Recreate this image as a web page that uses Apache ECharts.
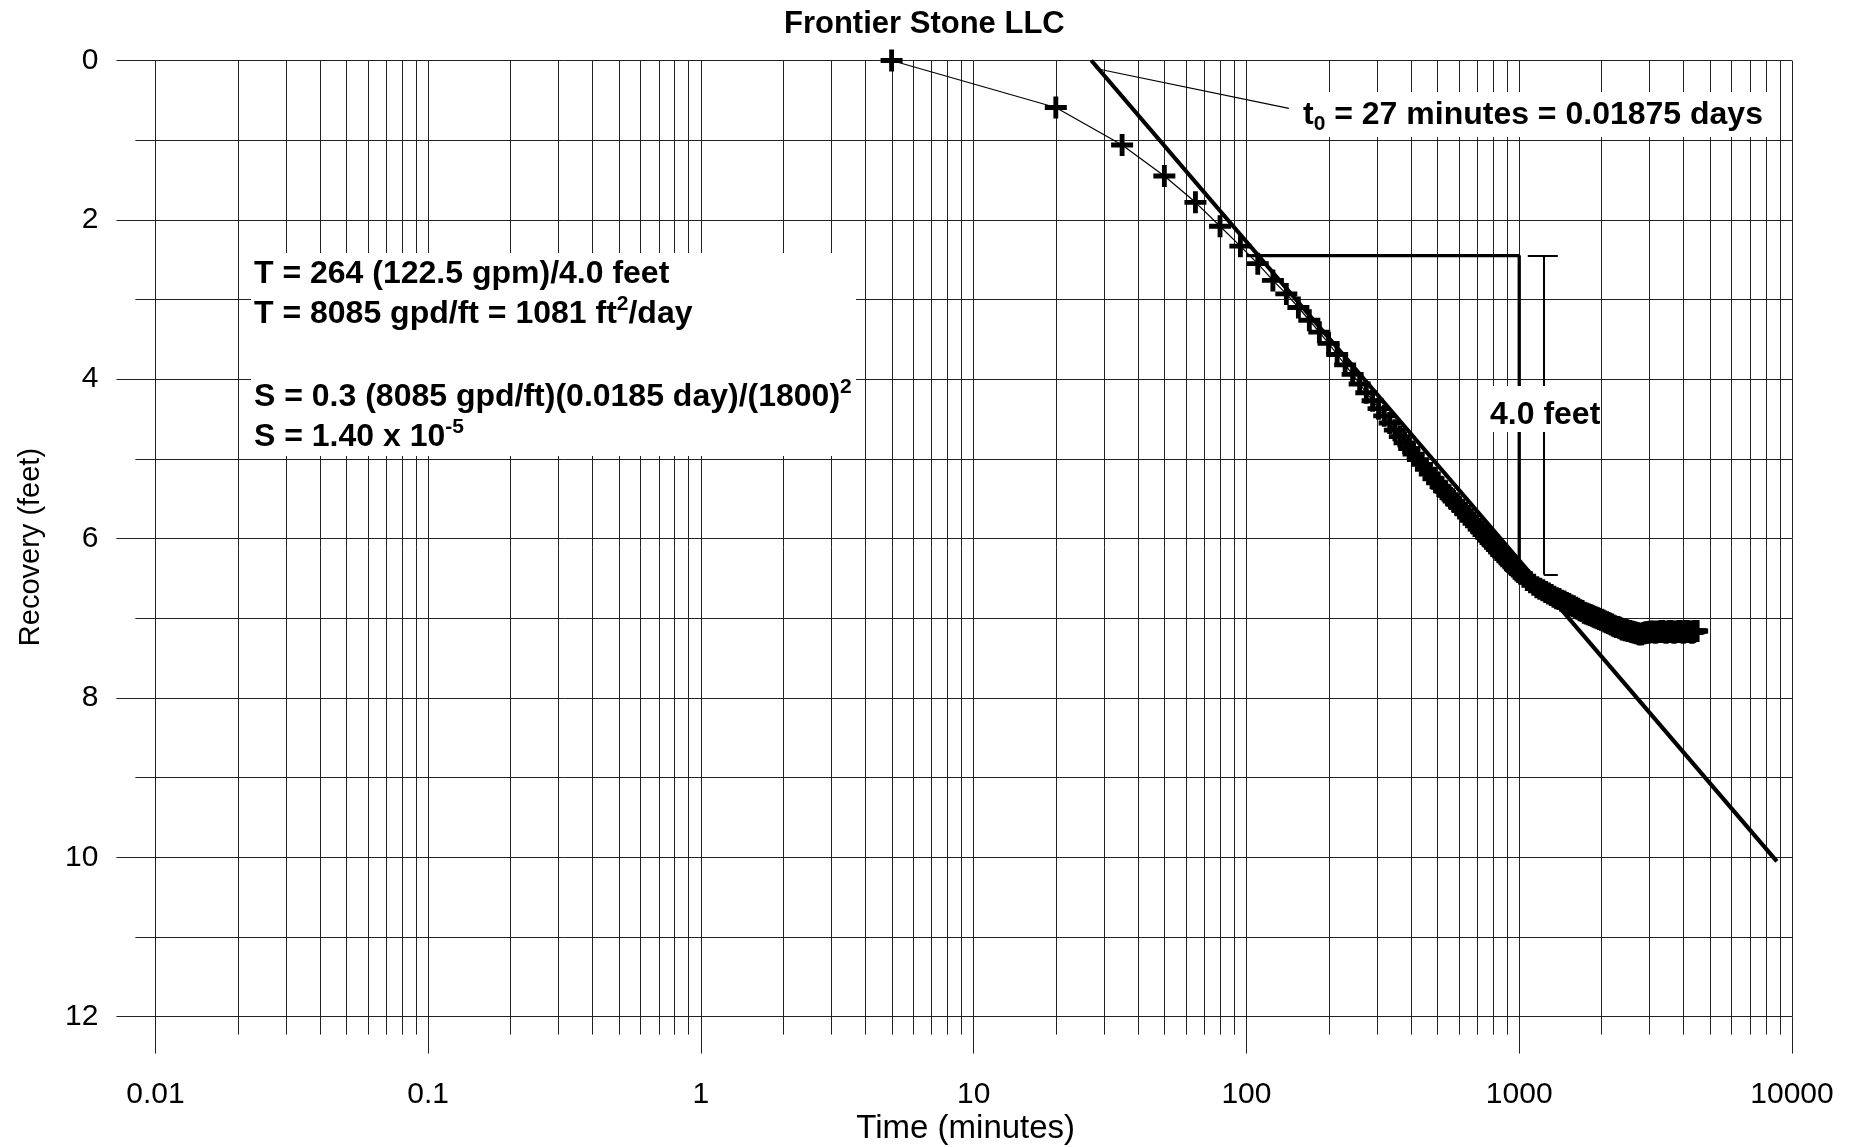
<!DOCTYPE html>
<html>
<head>
<meta charset="utf-8">
<title>Frontier Stone LLC – recovery test</title>
<script src="https://cdn.jsdelivr.net/npm/echarts/dist/echarts.min.js"></script>
<style>
  html, body { margin: 0; padding: 0; background: #ffffff; }
  #chart { width: 1860px; height: 1147px; }
</style>
</head>
<body>
<div id="chart"></div>
<script>
// ---- Data -------------------------------------------------------------
// Elapsed time since pump shut-off (minutes)
const timeMinutes = [
  5, 20, 35, 50, 65, 80, 95, 110, 125, 140,
  155, 170, 185, 200, 215, 230, 245, 260, 275, 290,
  305, 320, 335, 350, 365, 380, 395, 410, 425, 440,
  455, 470, 485, 500, 515, 530, 545, 560, 575, 590,
  605, 620, 635, 650, 665, 680, 695, 710, 725, 740,
  755, 770, 785, 800, 815, 830, 845, 860, 875, 890,
  905, 920, 935, 950, 965, 980, 995, 1010,
  1040, 1070, 1100, 1130, 1160, 1190, 1220, 1250, 1280, 1310,
  1340, 1370, 1400, 1430, 1460, 1490, 1520, 1550, 1580, 1610,
  1640, 1670, 1700, 1730, 1760, 1790, 1820, 1850, 1880, 1910,
  1940, 1970, 2000, 2030, 2060, 2090, 2120, 2150, 2180, 2210,
  2240, 2270, 2300, 2330, 2360, 2390, 2420, 2450, 2480, 2510,
  2540, 2570, 2600, 2630, 2660, 2690, 2720, 2750, 2780, 2810,
  2840, 2870, 2900, 2930, 2960, 2990, 3020, 3050, 3080, 3110,
  3140, 3170, 3200, 3230, 3260, 3290, 3320, 3350, 3380, 3410,
  3440, 3470, 3500, 3530, 3560, 3590, 3620, 3650, 3680, 3710,
  3740, 3770, 3800, 3830, 3860, 3890, 3920, 3950, 3980, 4010,
  4040, 4070, 4100, 4130, 4160, 4190, 4220, 4250, 4280, 4310,
  4340, 4370, 4400, 4430, 4460, 4490
];
// Water-level recovery (feet)
const recoveryFeet = [
  0.00, 0.59, 1.06, 1.45, 1.78, 2.08, 2.33, 2.55, 2.76, 2.93,
  3.10, 3.26, 3.41, 3.55, 3.69, 3.82, 3.94, 4.06, 4.17, 4.27,
  4.37, 4.46, 4.55, 4.64, 4.72, 4.80, 4.87, 4.94, 5.01, 5.07,
  5.13, 5.19, 5.25, 5.30, 5.35, 5.40, 5.45, 5.49, 5.53, 5.57,
  5.61, 5.65, 5.69, 5.73, 5.77, 5.81, 5.84, 5.88, 5.91, 5.95,
  5.98, 6.02, 6.05, 6.08, 6.11, 6.14, 6.17, 6.20, 6.22, 6.25,
  6.28, 6.30, 6.33, 6.35, 6.38, 6.40, 6.42, 6.44,
  6.48, 6.52, 6.55, 6.58, 6.61, 6.63, 6.65, 6.67, 6.69, 6.71,
  6.73, 6.75, 6.76, 6.78, 6.79, 6.81, 6.82, 6.84, 6.85, 6.87,
  6.88, 6.90, 6.91, 6.93, 6.94, 6.95, 6.96, 6.97, 6.98, 6.99,
  7.00, 7.01, 7.02, 7.03, 7.04, 7.05, 7.06, 7.07, 7.08, 7.09,
  7.10, 7.11, 7.11, 7.12, 7.13, 7.14, 7.14, 7.15, 7.15, 7.16,
  7.16, 7.17, 7.17, 7.18, 7.18, 7.19, 7.19, 7.20, 7.20, 7.20,
  7.19, 7.19, 7.18, 7.18, 7.18, 7.18, 7.17, 7.17, 7.17, 7.17,
  7.18, 7.18, 7.17, 7.17, 7.17, 7.17, 7.16, 7.16, 7.17, 7.17,
  7.18, 7.18, 7.17, 7.17, 7.16, 7.16, 7.17, 7.17, 7.18, 7.18,
  7.17, 7.17, 7.17, 7.17, 7.16, 7.16, 7.17, 7.17, 7.18, 7.18,
  7.17, 7.17, 7.16, 7.16, 7.17, 7.17, 7.17, 7.17, 7.18, 7.18,
  7.17, 7.17, 7.16, 7.16, 7.16, 7.16
];

// Straight-line (Cooper-Jacob) fit: t0 and slope per log cycle
const fitT0 = 27;          // minutes
const fitSlope = 4.0;      // feet per log cycle
const fitEndTime = 8800;   // minutes

// Slope construction over one log cycle
const bracketTimes = [100, 1000];
const bracketLevels = [2.45, 6.45];
const dimensionTime = 1230;
const dimensionCapTimes = [1075, 1385];

// Leader from the t0 label to the intercept
const leaderStart = [28, 0.1];
const leaderEnd = [143, 0.6];

// Axis ranges and labels
const xTickLabels = ['0.01', '0.1', '1', '10', '100', '1000', '10000'];
const yTickLabels = ['0', '2', '4', '6', '8', '10', '12'];
const X_MIN = 0.01, X_MAX = 10000;
const Y_MIN = 0, Y_MAX = 12;

// ---- Styling -----------------------------------------------------------
const FONT = '"Liberation Sans", Arial, Helvetica, sans-serif';
const GRID_COLOR = '#222';
const MINOR_TICK_LEN = 18;
const CROSS = 'path://M-1.1,-5 L1.1,-5 L1.1,-1.1 L5,-1.1 L5,1.1 L1.1,1.1 L1.1,5 L-1.1,5 L-1.1,1.1 L-5,1.1 L-5,-1.1 L-1.1,-1.1 Z';

// Intermediate log-cycle grid lines (2..9 within each decade)
const minorGridTimes = [];
for (let e = -2; e < 4; e++) {
  for (let m = 2; m <= 9; m++) minorGridTimes.push(+(m * Math.pow(10, e)).toPrecision(3));
}

const observations = timeMinutes.map((t, i) => [t, recoveryFeet[i]]);
const fitLine = [
  [fitT0, 0],
  [fitEndTime, fitSlope * Math.log10(fitEndTime / fitT0)]
];
const bracket = [
  [bracketTimes[0], bracketLevels[0]],
  [bracketTimes[1], bracketLevels[0]],
  [bracketTimes[1], bracketLevels[1]]
];

function renderMinorGrid(params, api) {
  const t = api.value(0);
  const a = api.coord([t, Y_MIN]);
  const b = api.coord([t, Y_MAX]);
  const x = Math.round(a[0]) + 0.5;
  return {
    type: 'line',
    shape: { x1: x, y1: Math.min(a[1], b[1]), x2: x, y2: Math.max(a[1], b[1]) + MINOR_TICK_LEN },
    style: { stroke: GRID_COLOR, lineWidth: 1 }
  };
}

const rich = {
  b:   { fontFamily: FONT, fontSize: 32, fontWeight: 'bold', fill: '#000', color: '#000', lineHeight: 40 },
  sup: { fontFamily: FONT, fontSize: 21, fontWeight: 'bold', fill: '#000', color: '#000', lineHeight: 24, verticalAlign: 'top' },
  sub: { fontFamily: FONT, fontSize: 21, fontWeight: 'bold', fill: '#000', color: '#000', lineHeight: 24, verticalAlign: 'bottom' }
};

function label(x, y, text, align) {
  return {
    type: 'text', x: x, y: y, z: 101, silent: true,
    style: {
      text: text, rich: rich,
      font: 'bold 32px ' + FONT, fill: '#000',
      align: align || 'left', verticalAlign: 'middle',
      textAlign: align || 'left', textVerticalAlign: 'middle'
    }
  };
}
function box(x, y, w, h) {
  return { type: 'rect', z: 100, silent: true, shape: { x: x, y: y, width: w, height: h }, style: { fill: '#fff' } };
}

const chart = echarts.init(document.getElementById('chart'), null, { renderer: 'canvas' });

chart.setOption({
  animation: false,
  backgroundColor: '#ffffff',
  title: {
    text: 'Frontier Stone LLC',
    left: 784, top: 9, padding: 0,
    textStyle: { fontFamily: FONT, fontSize: 31, fontWeight: 'bold', color: '#000' }
  },
  grid: { left: 155.4, right: 68, top: 60.5, bottom: 130.4, containLabel: false, outerBoundsMode: 'none' },
  xAxis: {
    type: 'log', logBase: 10, min: X_MIN, max: X_MAX,
    name: 'Time (minutes)', nameLocation: 'middle', nameGap: 96, nameMoveOverlap: false,
    nameTextStyle: { fontFamily: FONT, fontSize: 33, color: '#000', padding: [0, 16, 0, 0] },
    axisLine: { show: true, onZero: false, lineStyle: { color: GRID_COLOR, width: 1 } },
    axisTick: { show: true, length: 37, lineStyle: { color: GRID_COLOR, width: 1 } },
    axisLabel: {
      fontFamily: FONT, fontSize: 30, color: '#000', margin: 63,
      formatter: v => xTickLabels[Math.round(Math.log10(v)) + 2]
    },
    splitLine: { show: true, lineStyle: { color: GRID_COLOR, width: 1 } },
    minorTick: { show: false }, minorSplitLine: { show: false }
  },
  yAxis: {
    type: 'value', inverse: true, min: Y_MIN, max: Y_MAX, interval: 2,
    name: 'Recovery (feet)', nameLocation: 'middle', nameGap: 110, nameRotate: 90, nameMoveOverlap: false,
    nameTextStyle: { fontFamily: FONT, fontSize: 29, color: '#000', padding: [0, 17, 0, 0] },
    axisLine: { show: true, onZero: false, lineStyle: { color: GRID_COLOR, width: 1 } },
    axisTick: { show: true, length: 39, lineStyle: { color: GRID_COLOR, width: 1 } },
    minorTick: { show: true, splitNumber: 2, length: 20, lineStyle: { color: GRID_COLOR, width: 1 } },
    axisLabel: {
      fontFamily: FONT, fontSize: 30, color: '#000', margin: 57,
      formatter: v => yTickLabels[Math.round(v / 2)]
    },
    splitLine: { show: true, lineStyle: { color: GRID_COLOR, width: 1 } },
    minorSplitLine: { show: true, lineStyle: { color: GRID_COLOR, width: 1 } }
  },
  series: [
    {
      name: 'log grid', type: 'custom', coordinateSystem: 'cartesian2d', clip: false, silent: true, z: 1,
      renderItem: renderMinorGrid,
      data: minorGridTimes.map(t => [t, Y_MIN])
    },
    {
      name: 'fit', type: 'line', data: fitLine, symbol: 'none', silent: true, z: 4, clip: false,
      lineStyle: { color: '#000', width: 4.2 }
    },
    {
      name: 'slope bracket', type: 'line', data: bracket, symbol: 'none', silent: true, z: 4,
      lineStyle: { color: '#000', width: 3.3 }
    },
    {
      name: 'leader', type: 'line', data: [leaderStart, leaderEnd], symbol: 'none', silent: true, z: 4,
      lineStyle: { color: '#000', width: 1.2 }
    },
    {
      name: 'dimension', type: 'lines', coordinateSystem: 'cartesian2d', silent: true, z: 4,
      lineStyle: { color: '#000', width: 2, opacity: 1, curveness: 0 },
      data: [
        { coords: [[dimensionTime, bracketLevels[0]], [dimensionTime, bracketLevels[1]]] },
        { coords: [[dimensionCapTimes[0], bracketLevels[0]], [dimensionCapTimes[1], bracketLevels[0]]] },
        { coords: [[dimensionTime, bracketLevels[1]], [dimensionCapTimes[1], bracketLevels[1]]] }
      ]
    },
    {
      name: 'recovery', type: 'line', data: observations, clip: false, silent: true, z: 5,
      symbol: CROSS, symbolSize: 22, showAllSymbol: true,
      itemStyle: { color: '#000' },
      lineStyle: { color: '#000', width: 1.2 }
    }
  ],
  graphic: [
    box(251, 253, 605, 203),
    label(254, 274, '{b|T = 264 (122.5 gpm)/4.0 feet}'),
    label(254, 314, '{b|T = 8085 gpd/ft = 1081 ft}{sup|2}{b|/day}'),
    label(254, 397, '{b|S = 0.3 (8085 gpd/ft)(0.0185 day)/(1800)}{sup|2}'),
    label(254, 437, '{b|S = 1.40 x 10}{sup|-5}'),
    box(1291, 92, 486, 45),
    label(1303, 115, '{b|t}{sub|0}{b| = 27 minutes = 0.01875 days}'),
    box(1486, 386, 112, 46),
    label(1490, 415, '{b|4.0 feet}')
  ]
});
</script>
</body>
</html>
